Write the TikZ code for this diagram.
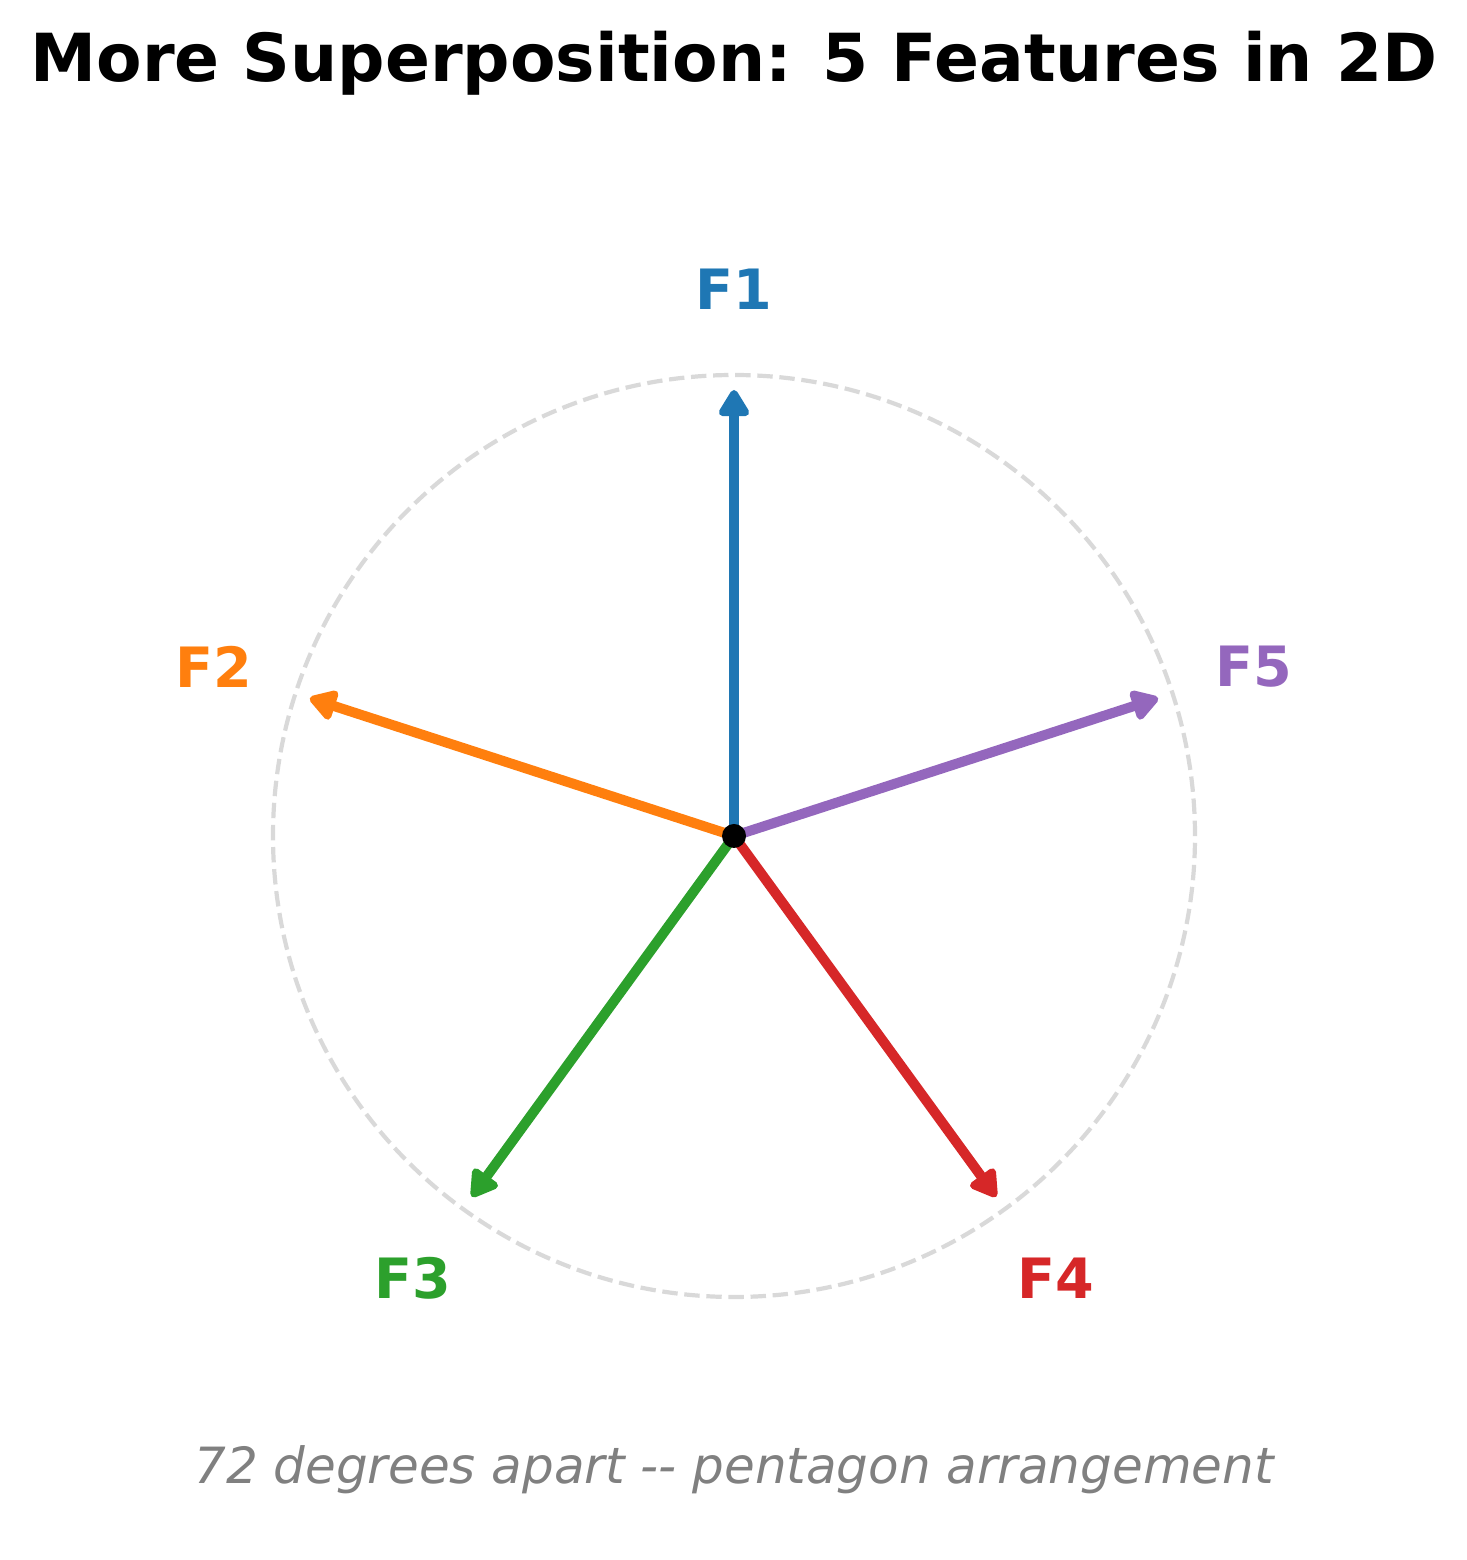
\documentclass[tikz,border=0pt]{standalone}
\usepackage{fontspec}
\setmainfont{DejaVu Sans}
\usetikzlibrary{arrows.meta,calc}
\definecolor{tabblue}{HTML}{1F77B4}
\definecolor{taborange}{HTML}{FF7F0E}
\definecolor{tabgreen}{HTML}{2CA02C}
\definecolor{tabred}{HTML}{D62728}
\definecolor{tabpurple}{HTML}{9467BD}
\definecolor{ringgray}{HTML}{D9D9D9}
\definecolor{notegray}{HTML}{808080}

\newcommand{\feature}[4]{%
 \coordinate ({#1}) at ($(O)+({#2}:446)$);%
 \node[featlabel,text={#3}] ({#1}lbl) at ($(O)+({#2}:547)$) {#4};%
 \draw[featarrow,{#3}] (O) -- ({#1});%
}

\begin{document}
\begin{tikzpicture}[x=0.01cm,y=0.01cm,
  featarrow/.style={line width=0.1cm,-{Triangle[length=0.3cm,width=0.34cm,round]}},
  featlabel/.style={font=\bfseries\fontsize{15.8}{19}\selectfont},
  ring/.style={ringgray,line width=0.042cm,dash pattern=on 0.154cm off 0.067cm}]
 \useasboundingbox (0,0) rectangle (1467,1560);
 \node[anchor=base,font=\bfseries\fontsize{18.85}{23}\selectfont] (title) at (734,1478) {More Superposition: 5 Features in 2D};
 \coordinate (O) at (734,724);
 \draw[ring] (O) circle (461);
 \feature{F1}{90}{tabblue}{F1}
 \feature{F2}{162}{taborange}{F2}
 \feature{F3}{234}{tabgreen}{F3}
 \feature{F4}{306}{tabred}{F4}
 \feature{F5}{18}{tabpurple}{F5}
 \fill[black] (O) circle (12);
 \node[anchor=base,text=notegray,font=\itshape\fontsize{14.2}{17}\selectfont] (note) at (734,76) {72 degrees apart -{}- pentagon arrangement};
\end{tikzpicture}
\end{document}
